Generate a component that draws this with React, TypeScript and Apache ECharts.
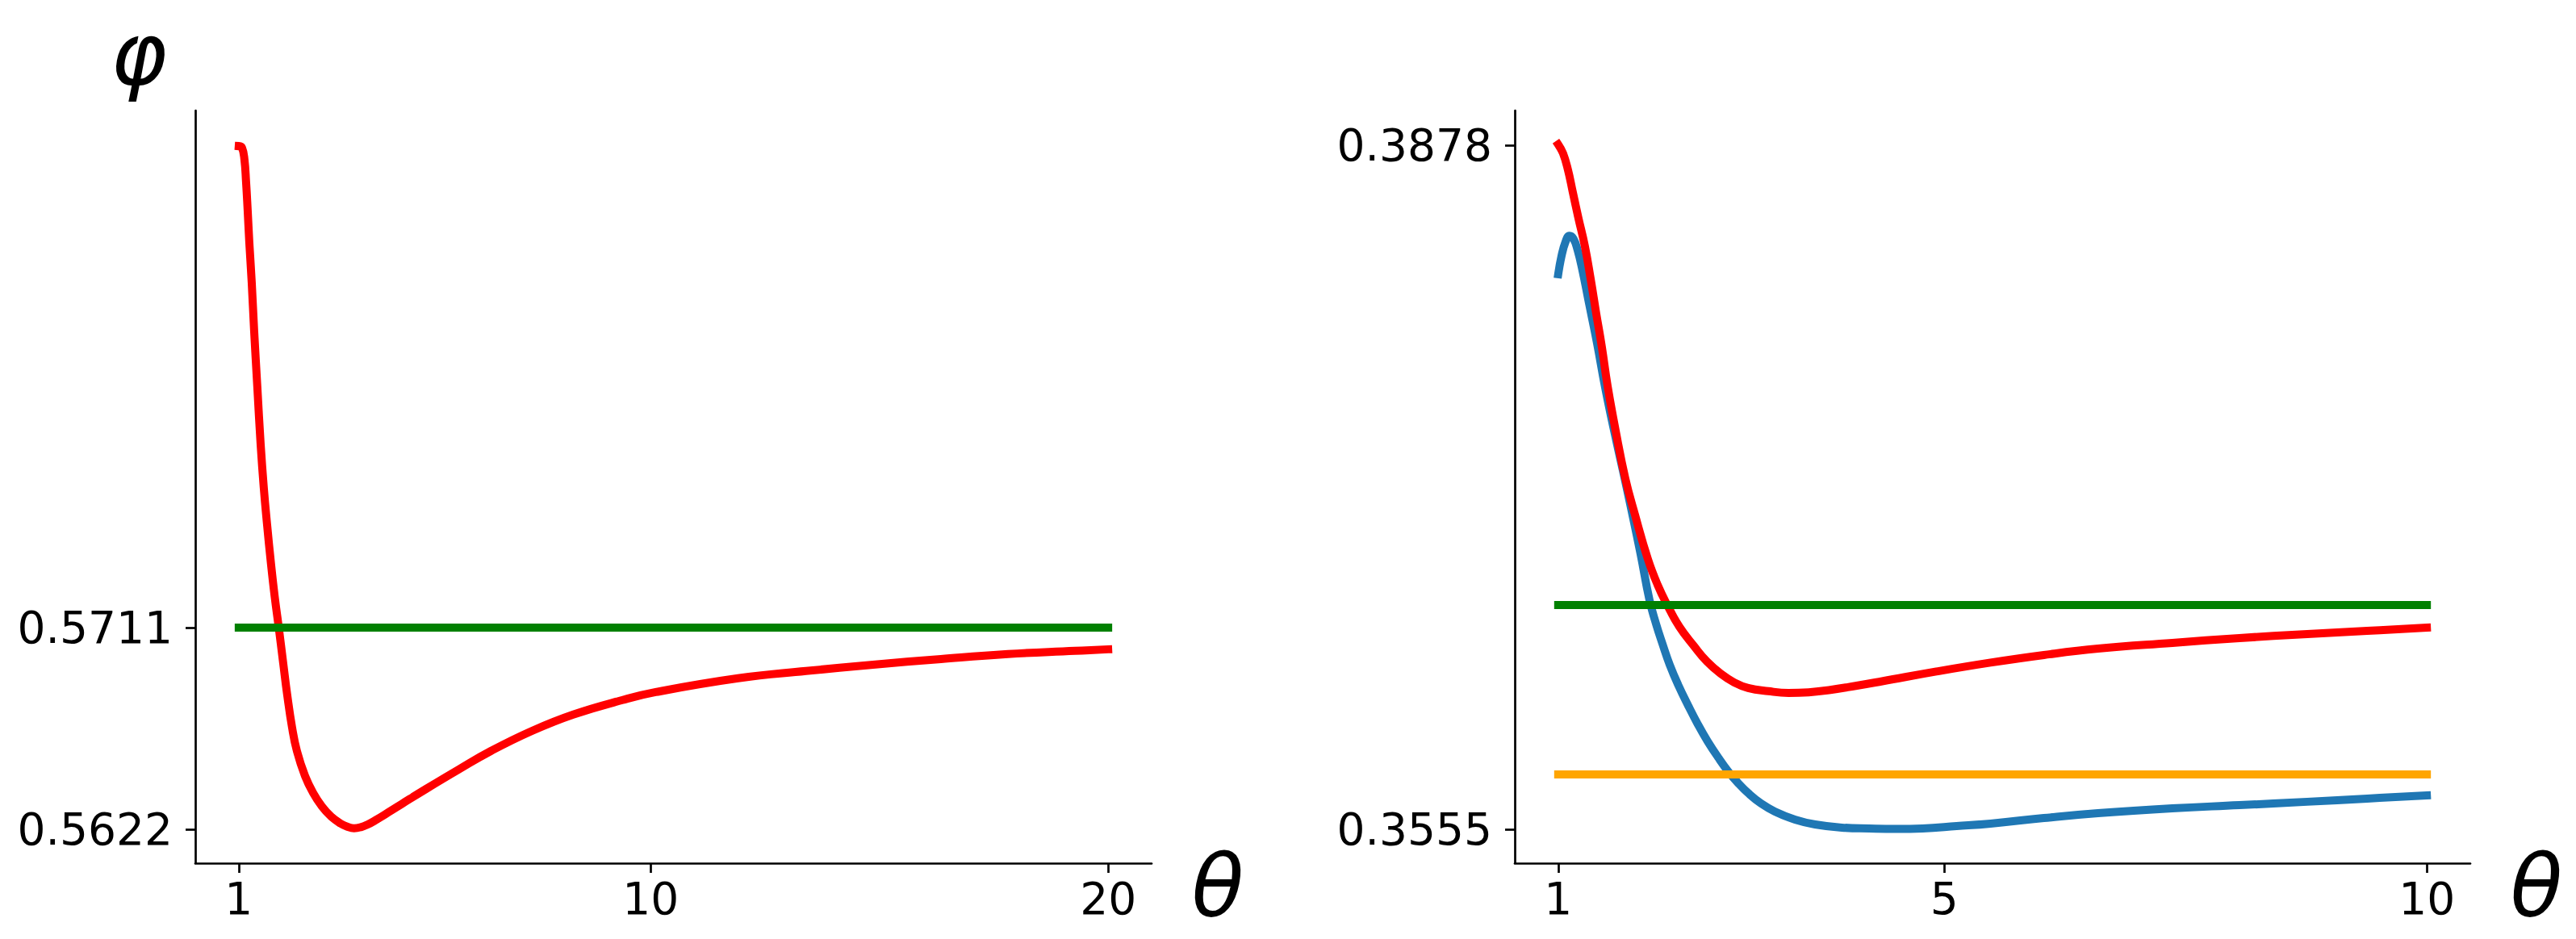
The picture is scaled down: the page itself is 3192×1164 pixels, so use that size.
import React, { useEffect, useRef } from "react";
import * as echarts from "echarts";

// ---- Left panel data (θ, φ) ----
const leftRedTheta = [1.0, 1.071, 1.124, 1.159, 1.194, 1.23, 1.283, 1.336, 1.406, 1.477, 1.547, 1.618, 1.706, 1.786, 1.874, 1.971, 2.06, 2.165, 2.271, 2.448, 2.625, 2.819, 3.013, 3.225, 3.37, 3.52, 3.67, 3.82, 3.984, 4.267, 4.567, 5.097, 5.803, 6.509, 7.41, 8.311, 9.388, 10.112, 11.913, 13.396, 14.862, 16.345, 17.811, 19.277, 20.0];
const leftRedPhi = [0.59235, 0.59228, 0.59175, 0.59079, 0.58954, 0.58812, 0.58634, 0.5842, 0.58171, 0.57922, 0.57726, 0.57566, 0.57388, 0.57245, 0.5711, 0.56953, 0.56811, 0.56669, 0.56565, 0.56455, 0.5638, 0.5632, 0.56277, 0.56245, 0.56231, 0.56224, 0.56229, 0.56241, 0.56259, 0.56294, 0.56332, 0.56398, 0.56483, 0.56565, 0.56654, 0.56726, 0.5679, 0.56825, 0.56886, 0.56918, 0.56946, 0.56971, 0.56993, 0.57007, 0.57014];
const leftGreenTheta = [1, 20];
const leftGreenPhi = [0.5711, 0.5711];
const leftXTicks = [1, 10, 20];
const leftYTicks = [0.5622, 0.5711];

// ---- Right panel data ----
const rightRedTheta = [1.0, 1.05, 1.1, 1.151, 1.209, 1.276, 1.335, 1.393, 1.452, 1.511, 1.594, 1.695, 1.795, 1.929, 2.03, 2.13, 2.256, 2.407, 2.541, 2.683, 2.825, 2.968, 3.177, 3.386, 3.595, 3.805, 4.081, 4.357, 4.918, 5.479, 6.032, 6.593, 7.363, 8.058, 8.761, 9.381, 10.0];
const rightRedPhi = [0.38784, 0.38742, 0.38666, 0.38559, 0.38437, 0.38304, 0.38152, 0.37988, 0.37828, 0.37645, 0.37435, 0.37207, 0.37036, 0.36826, 0.36704, 0.36609, 0.36506, 0.36415, 0.36342, 0.36285, 0.36243, 0.36217, 0.36202, 0.36194, 0.36197, 0.36207, 0.36227, 0.36249, 0.36295, 0.36337, 0.36373, 0.36403, 0.3643, 0.36453, 0.36472, 0.36487, 0.36502];
const rightBlueTheta = [1.0, 1.033, 1.075, 1.117, 1.159, 1.201, 1.251, 1.318, 1.402, 1.486, 1.578, 1.67, 1.762, 1.854, 1.946, 2.013, 2.08, 2.155, 2.247, 2.348, 2.448, 2.549, 2.658, 2.767, 2.867, 2.968, 3.101, 3.244, 3.453, 3.662, 3.939, 4.223, 4.5, 4.776, 5.128, 5.479, 6.032, 6.593, 7.363, 8.058, 8.761, 9.381, 10.0];
const rightBluePhi = [0.38171, 0.38254, 0.38323, 0.38353, 0.38338, 0.38285, 0.3819, 0.38037, 0.37847, 0.37637, 0.37435, 0.37245, 0.37051, 0.36849, 0.36632, 0.36521, 0.36426, 0.36327, 0.36228, 0.36133, 0.36045, 0.35965, 0.35889, 0.3582, 0.35767, 0.35721, 0.35672, 0.35634, 0.35596, 0.35573, 0.35558, 0.35554, 0.35552, 0.35554, 0.35565, 0.35577, 0.35603, 0.35626, 0.35649, 0.35664, 0.3568, 0.35695, 0.3571];
const rightGreenTheta = [1, 10];
const rightGreenPhi = [0.36609, 0.36609];
const rightOrangeTheta = [1, 10];
const rightOrangePhi = [0.35809, 0.35809];
const rightXTicks = [1, 5, 10];
const rightYTicks = [0.3555, 0.3878];

const zip = (xs: number[], ys: number[]) => xs.map((x, i) => [x, ys[i]]);

const FONT = "DejaVu Sans";

function xAxisCfg(gridIndex: number, min: number, max: number, ticks: number[]) {
  return {
    type: "value",
    gridIndex,
    min,
    max,
    splitLine: { show: false },
    axisLine: { show: true, onZero: false, lineStyle: { color: "#000", width: 2.7 } },
    axisTick: { show: true, length: 12, inside: false, lineStyle: { color: "#000", width: 2.7 }, customValues: ticks },
    axisLabel: { show: true, color: "#000", fontSize: 55, fontFamily: FONT, margin: 16, customValues: ticks },
  };
}

function yAxisCfg(gridIndex: number, min: number, max: number, ticks: number[]) {
  return {
    type: "value",
    gridIndex,
    min,
    max,
    splitLine: { show: false },
    axisLine: { show: true, onZero: false, lineStyle: { color: "#000", width: 2.7 } },
    axisTick: { show: true, length: 12, inside: false, lineStyle: { color: "#000", width: 2.7 }, customValues: ticks },
    axisLabel: { show: true, color: "#000", fontSize: 55, fontFamily: FONT, margin: 28, customValues: ticks, formatter: (v: number) => v.toFixed(4) },
  };
}

function lineSeries(name: string, xi: number, data: number[][], color: string, z: number) {
  return {
    name,
    type: "line",
    xAxisIndex: xi,
    yAxisIndex: xi,
    data,
    showSymbol: false,
    symbol: "none",
    smooth: 0.45,
    z,
    lineStyle: { color, width: 10, cap: "square", join: "round" },
  };
}

export default function App() {
  const ref = useRef<HTMLDivElement>(null);
  useEffect(() => {
    if (!ref.current) return;
    const chart = echarts.init(ref.current, null, { renderer: "svg" });
    chart.setOption({
      animation: false,
      backgroundColor: "#ffffff",
      textStyle: { fontFamily: FONT },
      grid: [
        { left: 242, right: 3192 - 1427, top: 137, bottom: 1164 - 1070 },
        { left: 1877, right: 3192 - 3061, top: 137, bottom: 1164 - 1070 },
      ],
      xAxis: [xAxisCfg(0, 0.05, 20.95, leftXTicks), xAxisCfg(1, 0.55, 10.45, rightXTicks)],
      yAxis: [yAxisCfg(0, 0.5607, 0.59392, leftYTicks), yAxisCfg(1, 0.3539, 0.38944, rightYTicks)],
      series: [
        lineSeries("left red", 0, zip(leftRedTheta, leftRedPhi), "#ff0000", 2),
        lineSeries("left green", 0, zip(leftGreenTheta, leftGreenPhi), "#008000", 3),
        lineSeries("right blue", 1, zip(rightBlueTheta, rightBluePhi), "#1f77b4", 2),
        lineSeries("right red", 1, zip(rightRedTheta, rightRedPhi), "#ff0000", 3),
        lineSeries("right green", 1, zip(rightGreenTheta, rightGreenPhi), "#008000", 4),
        lineSeries("right orange", 1, zip(rightOrangeTheta, rightOrangePhi), "#ffa500", 5),
      ],
      graphic: [
        { type: "text", x: 172, y: 67, style: { text: "φ", fontSize: 106, fontStyle: "italic", fontFamily: FONT, fill: "#000", textAlign: "center", textVerticalAlign: "middle" } },
        { type: "text", x: 1509, y: 1098, style: { text: "θ", fontSize: 106, fontStyle: "italic", fontFamily: FONT, fill: "#000", textAlign: "center", textVerticalAlign: "middle" } },
        { type: "text", x: 3143, y: 1098, style: { text: "θ", fontSize: 106, fontStyle: "italic", fontFamily: FONT, fill: "#000", textAlign: "center", textVerticalAlign: "middle" } },
      ],
    });
    return () => chart.dispose();
  }, []);
  return <div ref={ref} style={{ position: "fixed", left: 0, top: 0, width: 3192, height: 1164 }} />;
}
